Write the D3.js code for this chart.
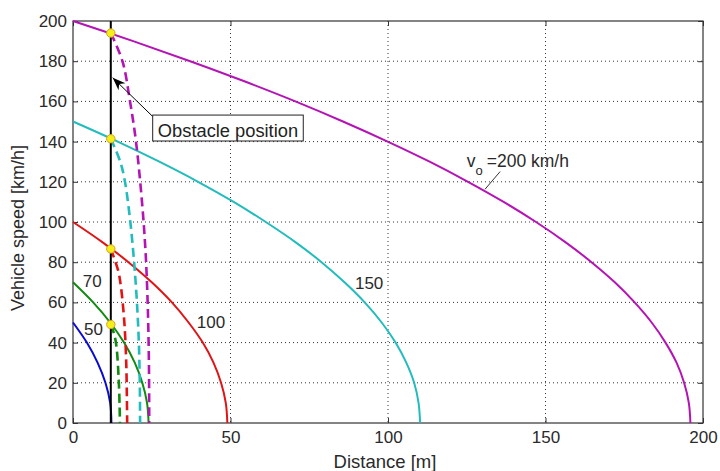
<!DOCTYPE html>
<html><head><meta charset="utf-8">
<script src="https://cdn.jsdelivr.net/npm/d3@7/dist/d3.min.js"></script>
<style>body{margin:0;background:#fff}svg{display:block}text{font-family:"Liberation Sans",Arial,sans-serif}</style>
</head><body><div id="chart"></div>
<script>
// ---- data: [distance m, speed km/h] ----
const solid200 = [[0,200],[19.1,190],[37.2,180],[54.4,170],[70.6,160],[85.7,150],[99.9,140],[113.2,130],[125.4,120],[136.7,110],[147,100],[156.3,90],[164.6,80],[172,70],[178.3,60],[183.7,50],[188.1,40],[191.6,30],[194,20],[195.5,10],[196,0]];
const solid150 = [[0,150],[14.2,140],[27.4,130],[39.7,120],[51,110],[61.2,100],[70.6,90],[78.9,80],[86.2,70],[92.6,60],[98,50],[102.4,40],[105.8,30],[108.3,20],[109.7,10],[110.2,0]];
const solid100 = [[0,100],[9.3,90],[17.6,80],[25,70],[31.4,60],[36.7,50],[41.2,40],[44.6,30],[47,20],[48.5,10],[49,0]];
const solid70 = [[0,70],[6.4,60],[11.8,50],[16.2,40],[19.6,30],[22,20],[23.5,10],[24,0]];
const solid50 = [[0,50],[4.4,40],[7.8,30],[10.3,20],[11.8,10],[12.2,0]];
const dash200 = [[12,194],[15.7,180],[18.1,160],[20,140],[21.9,110],[23,86],[23.7,60],[24.1,30],[24.2,0]];
const dash150 = [[12,141.4],[15,130],[16.5,120],[18.2,100],[19.4,80],[20.3,60],[20.9,40],[21.2,20],[21.3,0]];
const dash100 = [[12,86.6],[14.3,76],[15.2,68],[16.3,50],[16.9,30],[17.1,13],[17.2,0]];
const dash70 = [[12,49],[13.1,44],[13.8,38],[14.5,22],[14.8,8],[14.9,0]];
const impactPoints = [[12,194],[12,141.4],[12,86.6],[12,49]];
const obstacleX = 12;
const xTicks = [0,50,100,150,200];
const yTicks = [0,20,40,60,80,100,120,140,160,180,200];
const curveLabels = [{t:"70",x:3.1,y:67.8},{t:"50",x:3.5,y:43.8},{t:"100",x:39.3,y:47.1},{t:"150",x:89.5,y:66.5}];

const colors = {m:"#b414b4", c:"#22bcbc", r:"#e01414", g:"#108a10", b:"#0a0ad2"};
const W=720,H=471, L=73,R=703,T=21,B=423;
const svg=d3.select("#chart").append("svg").attr("width",W).attr("height",H);
const x=d3.scaleLinear().domain([0,200]).range([L,R]);
const y=d3.scaleLinear().domain([0,200]).range([B,T]);

// grid
const g=svg.append("g");
xTicks.slice(1,-1).forEach(v=>g.append("line").attr("x1",x(v)).attr("x2",x(v)).attr("y1",T).attr("y2",B).attr("stroke","#333").attr("stroke-width",1).attr("stroke-dasharray","1,3"));
yTicks.slice(1,-1).forEach(v=>g.append("line").attr("y1",y(v)).attr("y2",y(v)).attr("x1",L).attr("x2",R).attr("stroke","#333").attr("stroke-width",1).attr("stroke-dasharray","1,3"));

// axes
const ax=svg.append("g").attr("transform",`translate(0,${B})`).call(d3.axisBottom(x).tickValues(xTicks).tickSize(-5).tickPadding(8).tickFormat(d3.format("d")));
const ay=svg.append("g").attr("transform",`translate(${L},0)`).call(d3.axisLeft(y).tickValues(yTicks).tickSize(-5).tickPadding(6).tickFormat(d3.format("d")));
const axT=svg.append("g").attr("transform",`translate(0,${T})`).call(d3.axisTop(x).tickValues(xTicks).tickSize(-5).tickFormat(""));
const ayR=svg.append("g").attr("transform",`translate(${R},0)`).call(d3.axisRight(y).tickValues(yTicks).tickSize(-5).tickFormat(""));
[ax,ay,axT,ayR].forEach(a=>{a.select(".domain").remove();a.selectAll("line").attr("stroke","#333");a.selectAll("text").attr("fill","#2a2a2a").style("font-size","17px").style("font-family","'Liberation Sans',Arial,sans-serif");});
ax.selectAll("text").attr("dy","0.71em");
svg.append("rect").attr("x",L).attr("y",T).attr("width",R-L).attr("height",B-T).attr("fill","none").attr("stroke","#333").attr("stroke-width",1.2);

// curves
const line=d3.line().x(d=>x(d[0])).y(d=>y(d[1])).curve(d3.curveCatmullRom.alpha(0.5));
const plot=svg.append("g");
[[solid50,colors.b],[solid70,colors.g],[solid100,colors.r],[solid150,colors.c],[solid200,colors.m]].forEach(([d,c])=>
  plot.append("path").attr("d",line(d)).attr("fill","none").attr("stroke",c).attr("stroke-width",2));
[[dash70,colors.g],[dash100,colors.r],[dash150,colors.c],[dash200,colors.m]].forEach(([d,c])=>
  plot.append("path").attr("d",line(d)).attr("fill","none").attr("stroke",c).attr("stroke-width",2.6).attr("stroke-dasharray","9,5"));
// obstacle line
plot.append("line").attr("x1",x(obstacleX)).attr("x2",x(obstacleX)).attr("y1",y(0)).attr("y2",y(200)).attr("stroke","#000").attr("stroke-width",2);
// impact markers
impactPoints.forEach(p=>plot.append("circle").attr("cx",x(p[0])).attr("cy",y(p[1])).attr("r",4.2).attr("fill","#f4ee1a").attr("stroke","#d8a020").attr("stroke-width",1));

// annotation arrow + box
const tail=[25.3,152.5], head=[12.6,171.8];
const hx=x(head[0]),hy=y(head[1]),tx=x(tail[0]),ty=y(tail[1]);
svg.append("line").attr("x1",tx).attr("y1",ty).attr("x2",hx).attr("y2",hy).attr("stroke","#000").attr("stroke-width",1);
const ang=Math.atan2(hy-ty,hx-tx), len=13, wid=5;
const bx=hx-len*Math.cos(ang), by=hy-len*Math.sin(ang);
svg.append("path").attr("d",`M${hx},${hy}L${bx+wid*Math.sin(ang)},${by-wid*Math.cos(ang)}L${bx+4*Math.cos(ang)},${by+4*Math.sin(ang)}L${bx-wid*Math.sin(ang)},${by+wid*Math.cos(ang)}Z`).attr("fill","#000");
svg.append("rect").attr("x",x(25.3)).attr("y",y(153.2)).attr("width",x(73.1)-x(25.3)).attr("height",y(140.3)-y(153.2)).attr("fill","#fff").attr("stroke","#222").attr("stroke-width",1);
svg.append("text").attr("x",(x(25.3)+x(73.1))/2).attr("y",y(142.4)).attr("text-anchor","middle").attr("fill","#222").style("font-size","18.3px").text("Obstacle position");

// curve labels
curveLabels.forEach(l=>svg.append("text").attr("x",x(l.x)).attr("y",y(l.y)).attr("fill","#2a2a2a").style("font-size","17px").text(l.t));
// v0 label
svg.append("line").attr("x1",x(135.6)).attr("y1",y(125.1)).attr("x2",x(130.8)).attr("y2",y(116.3)).attr("stroke","#333").attr("stroke-width",1);
const vt=svg.append("text").attr("x",x(125)).attr("y",y(127.5)).attr("fill","#2a2a2a").style("font-size","17.5px");
vt.append("tspan").text("v");
vt.append("tspan").attr("dy",8).style("font-size","13px").text("o");
vt.append("tspan").attr("dy",-8).attr("dx",4).text("=200 km/h");

// axis titles
svg.append("text").attr("x",385).attr("y",468).attr("text-anchor","middle").attr("fill","#2a2a2a").style("font-size","18.5px").text("Distance [m]");
svg.append("text").attr("transform",`translate(24,${(T+B)/2+6}) rotate(-90)`).attr("text-anchor","middle").attr("fill","#2a2a2a").style("font-size","18px").text("Vehicle speed [km/h]");
</script></body></html>
